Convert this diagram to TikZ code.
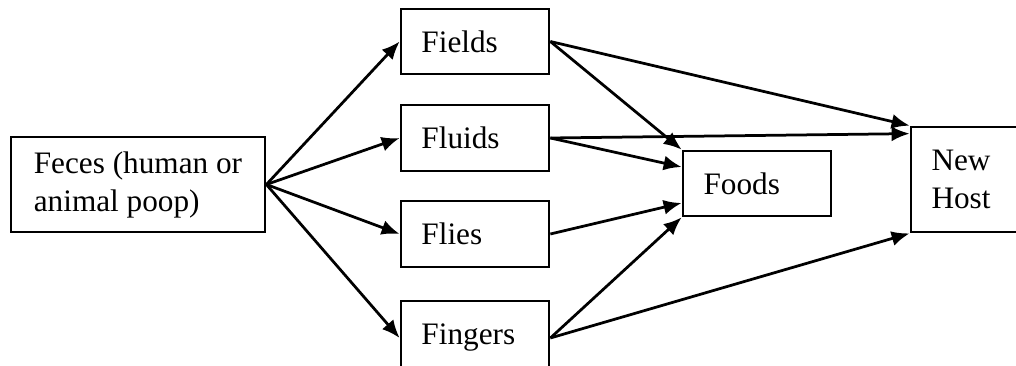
\documentclass[tikz,border=0pt]{standalone}
\usepackage{fontspec}
\setmainfont{Liberation Serif}
\usetikzlibrary{arrows.meta}
\tikzset{
  fbox/.style={draw, line width=1.1pt, rectangle, inner xsep=8.2pt, inner ysep=0pt, align=left, font=\fontsize{12.5pt}{15.2pt}\selectfont},
  farrow/.style={line width=1.1pt, -{Latex[length=7.2pt,width=6pt]}}
}
\begin{document}
\begin{tikzpicture}[x=0.4pt, y=-0.4pt]
\useasboundingbox (0,0) rectangle (1016,366);
\node[fbox, minimum width=101.6pt, minimum height=38pt] (feces) at (138,184.5){Feces (human or\\animal poop)};
\node[fbox, minimum width=59.2pt, minimum height=26pt, text width=42.8pt] (fields) at (475,41.5){Fields};
\node[fbox, minimum width=59.2pt, minimum height=26.4pt, text width=42.8pt] (fluids) at (475,138){Fluids};
\node[fbox, minimum width=59.2pt, minimum height=26.4pt, text width=42.8pt] (flies) at (475,234){Flies};
\node[fbox, minimum width=59.2pt, minimum height=29.6pt, text width=42.8pt] (fingers) at (475,338){Fingers};
\node[fbox, minimum width=59.2pt, minimum height=26pt, text width=42.8pt] (foods) at (757,183.5){Foods};
\node[fbox, minimum width=56pt, minimum height=42pt, text width=39.6pt] (host) at (981,179.5){New\\Host};
\draw[farrow](feces.east) -- (fields.west);
\draw[farrow](feces.east) -- (fluids.west);
\draw[farrow](feces.east) -- (flies.west);
\draw[farrow](feces.east) -- (fingers.west);
\draw[farrow](fields.east) -- (host.north west);
\draw[farrow](fields.east) -- (foods.north west);
\draw[farrow](fluids.east) -- ([yshift=-3.2pt]host.north west);
\draw[farrow](fluids.east) -- ([yshift=6.6pt]foods.west);
\draw[farrow](flies.east) -- ([yshift=-7.8pt]foods.west);
\draw[farrow](fingers.east) -- (foods.south west);
\draw[farrow](fingers.east) -- (host.south west);
\end{tikzpicture}
\end{document}
